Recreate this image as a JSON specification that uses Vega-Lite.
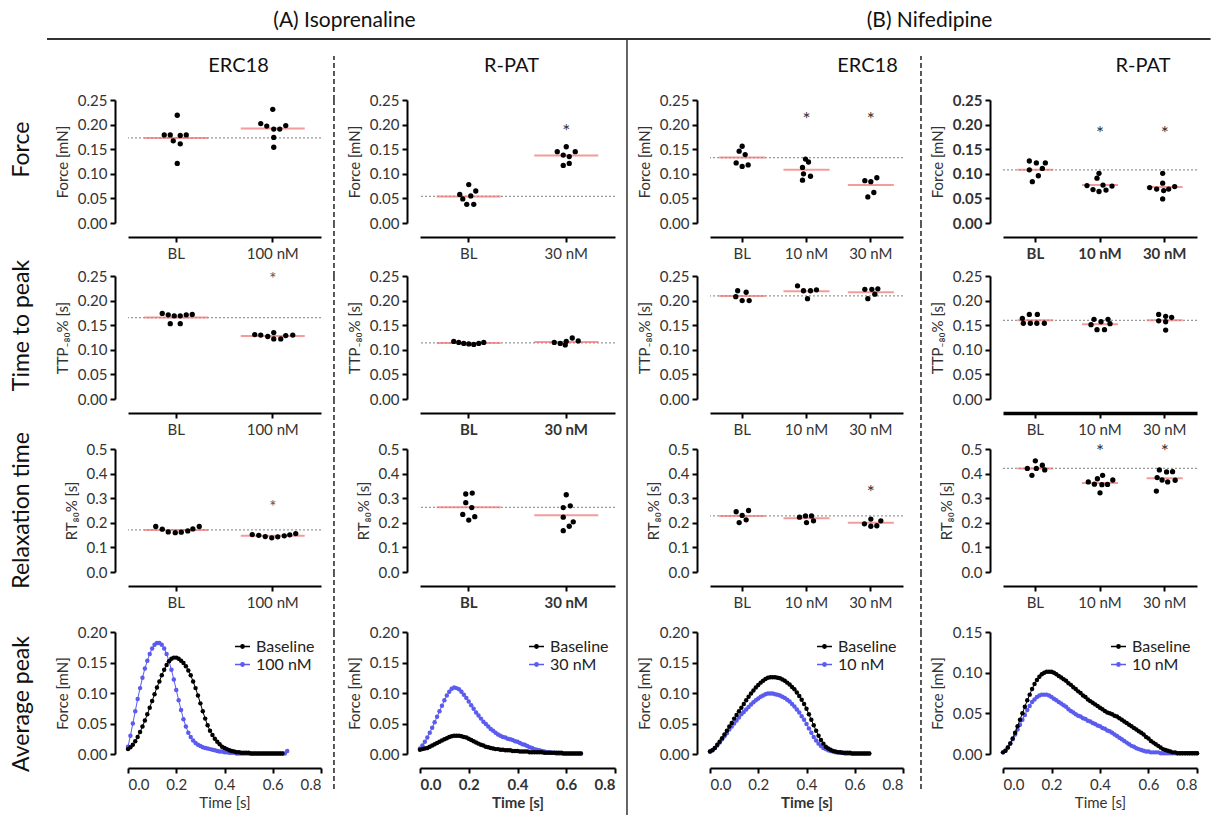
{
"$schema":"https://vega.github.io/schema/vega-lite/v6.json",
"padding":{"top":10,"left":0,"right":0,"bottom":0},
"config":{
 "font":"Lato",
 "view":{"stroke":null},
 "axis":{"grid":false,"domainColor":"#000","domainWidth":2,"tickColor":"#000","tickWidth":2,"tickSize":5,"labelFontSize":15,"labelColor":"#333","labelPadding":3,"titleFontSize":15,"titleFontWeight":"normal","titleColor":"#333","titlePadding":7},
 "axisX":{"offset":14,"labelAngle":0,"labelPadding":4},
 "axisY":{"offset":13},
 "title":{"font":"Lato","fontWeight":"normal","color":"#111"}
},
"datasets":{
"med":[
{"p":"F1","g":"BL","v":0.173},{"p":"F1","g":"100 nM","v":0.192},
{"p":"F2","g":"BL","v":0.054},{"p":"F2","g":"30 nM","v":0.137},
{"p":"F3","g":"BL","v":0.133},{"p":"F3","g":"10 nM","v":0.108},{"p":"F3","g":"30 nM","v":0.077},
{"p":"F4","g":"BL","v":0.108},{"p":"F4","g":"10 nM","v":0.077},{"p":"F4","g":"30 nM","v":0.073},
{"p":"T1","g":"BL","v":0.1655},{"p":"T1","g":"100 nM","v":0.128},
{"p":"T2","g":"BL","v":0.114},{"p":"T2","g":"30 nM","v":0.116},
{"p":"T3","g":"BL","v":0.2095},{"p":"T3","g":"10 nM","v":0.219},{"p":"T3","g":"30 nM","v":0.217},
{"p":"T4","g":"BL","v":0.160},{"p":"T4","g":"10 nM","v":0.152},{"p":"T4","g":"30 nM","v":0.160},
{"p":"R1","g":"BL","v":0.171},{"p":"R1","g":"100 nM","v":0.147},
{"p":"R2","g":"BL","v":0.263},{"p":"R2","g":"30 nM","v":0.231},
{"p":"R3","g":"BL","v":0.228},{"p":"R3","g":"10 nM","v":0.219},{"p":"R3","g":"30 nM","v":0.200},
{"p":"R4","g":"BL","v":0.421},{"p":"R4","g":"10 nM","v":0.362},{"p":"R4","g":"30 nM","v":0.381}
],
"stars":[
{"p":"F2","g":"30 nM","v":0.193},
{"p":"F3","g":"10 nM","v":0.217},{"p":"F3","g":"30 nM","v":0.217},
{"p":"F4","g":"10 nM","v":0.19},{"p":"F4","g":"30 nM","v":0.19},
{"p":"T1","g":"100 nM","v":0.249},
{"p":"R1","g":"100 nM","v":0.276},
{"p":"R3","g":"30 nM","v":0.338},
{"p":"R4","g":"10 nM","v":0.505},{"p":"R4","g":"30 nM","v":0.505}
],
"dots":[
{"p":"F1","g":"BL","j":1,"v":0.219},{"p":"F1","g":"BL","j":-12,"v":0.179},{"p":"F1","g":"BL","j":-6,"v":0.179},{"p":"F1","g":"BL","j":4,"v":0.178},{"p":"F1","g":"BL","j":10,"v":0.179},{"p":"F1","g":"BL","j":-3,"v":0.167},{"p":"F1","g":"BL","j":4,"v":0.161},{"p":"F1","g":"BL","j":1,"v":0.121},
{"p":"F1","g":"100 nM","j":0,"v":0.231},{"p":"F1","g":"100 nM","j":-12,"v":0.202},{"p":"F1","g":"100 nM","j":-6,"v":0.197},{"p":"F1","g":"100 nM","j":1,"v":0.191},{"p":"F1","g":"100 nM","j":7,"v":0.191},{"p":"F1","g":"100 nM","j":13,"v":0.198},{"p":"F1","g":"100 nM","j":1,"v":0.174},{"p":"F1","g":"100 nM","j":1,"v":0.154},
{"p":"F2","g":"BL","j":0,"v":0.078},{"p":"F2","g":"BL","j":-9,"v":0.058},{"p":"F2","g":"BL","j":7,"v":0.065},{"p":"F2","g":"BL","j":2,"v":0.055},{"p":"F2","g":"BL","j":-6,"v":0.049},{"p":"F2","g":"BL","j":-2,"v":0.038},{"p":"F2","g":"BL","j":5,"v":0.038},
{"p":"F2","g":"30 nM","j":0,"v":0.155},{"p":"F2","g":"30 nM","j":-9,"v":0.145},{"p":"F2","g":"30 nM","j":9,"v":0.145},{"p":"F2","g":"30 nM","j":-3,"v":0.138},{"p":"F2","g":"30 nM","j":3,"v":0.135},{"p":"F2","g":"30 nM","j":-3,"v":0.117},{"p":"F2","g":"30 nM","j":3,"v":0.121},
{"p":"F3","g":"BL","j":0,"v":0.156},{"p":"F3","g":"BL","j":-3,"v":0.146},{"p":"F3","g":"BL","j":3,"v":0.139},{"p":"F3","g":"BL","j":-6,"v":0.122},{"p":"F3","g":"BL","j":6,"v":0.118},{"p":"F3","g":"BL","j":0,"v":0.115},
{"p":"F3","g":"10 nM","j":-1,"v":0.130},{"p":"F3","g":"10 nM","j":2,"v":0.124},{"p":"F3","g":"10 nM","j":-4,"v":0.113},{"p":"F3","g":"10 nM","j":-3,"v":0.100},{"p":"F3","g":"10 nM","j":4,"v":0.095},{"p":"F3","g":"10 nM","j":-4,"v":0.087},
{"p":"F3","g":"30 nM","j":-6,"v":0.086},{"p":"F3","g":"30 nM","j":0,"v":0.084},{"p":"F3","g":"30 nM","j":6,"v":0.092},{"p":"F3","g":"30 nM","j":3,"v":0.062},{"p":"F3","g":"30 nM","j":-3,"v":0.053},
{"p":"F4","g":"BL","j":-6,"v":0.126},{"p":"F4","g":"BL","j":1,"v":0.122},{"p":"F4","g":"BL","j":10,"v":0.122},{"p":"F4","g":"BL","j":7,"v":0.111},{"p":"F4","g":"BL","j":-6,"v":0.108},{"p":"F4","g":"BL","j":3,"v":0.096},{"p":"F4","g":"BL","j":-3,"v":0.084},
{"p":"F4","g":"10 nM","j":-1,"v":0.101},{"p":"F4","g":"10 nM","j":-3,"v":0.091},{"p":"F4","g":"10 nM","j":-13,"v":0.076},{"p":"F4","g":"10 nM","j":3,"v":0.077},{"p":"F4","g":"10 nM","j":12,"v":0.075},{"p":"F4","g":"10 nM","j":-7,"v":0.068},{"p":"F4","g":"10 nM","j":-1,"v":0.064},{"p":"F4","g":"10 nM","j":6,"v":0.067},
{"p":"F4","g":"30 nM","j":-2,"v":0.101},{"p":"F4","g":"30 nM","j":-2,"v":0.081},{"p":"F4","g":"30 nM","j":-15,"v":0.072},{"p":"F4","g":"30 nM","j":-8,"v":0.069},{"p":"F4","g":"30 nM","j":4,"v":0.069},{"p":"F4","g":"30 nM","j":10,"v":0.074},{"p":"F4","g":"30 nM","j":-1,"v":0.066},{"p":"F4","g":"30 nM","j":-2,"v":0.049},
{"p":"T1","g":"BL","j":-14,"v":0.174},{"p":"T1","g":"BL","j":-8,"v":0.171},{"p":"T1","g":"BL","j":-2,"v":0.169},{"p":"T1","g":"BL","j":4,"v":0.169},{"p":"T1","g":"BL","j":10,"v":0.171},{"p":"T1","g":"BL","j":16,"v":0.172},{"p":"T1","g":"BL","j":-6,"v":0.153},{"p":"T1","g":"BL","j":4,"v":0.153},
{"p":"T1","g":"100 nM","j":-18,"v":0.131},{"p":"T1","g":"100 nM","j":-12,"v":0.130},{"p":"T1","g":"100 nM","j":-5,"v":0.127},{"p":"T1","g":"100 nM","j":1,"v":0.135},{"p":"T1","g":"100 nM","j":1,"v":0.122},{"p":"T1","g":"100 nM","j":8,"v":0.122},{"p":"T1","g":"100 nM","j":13,"v":0.129},{"p":"T1","g":"100 nM","j":20,"v":0.130},
{"p":"T2","g":"BL","j":-15,"v":0.117},{"p":"T2","g":"BL","j":-10,"v":0.115},{"p":"T2","g":"BL","j":-5,"v":0.113},{"p":"T2","g":"BL","j":0,"v":0.112},{"p":"T2","g":"BL","j":5,"v":0.111},{"p":"T2","g":"BL","j":10,"v":0.113},{"p":"T2","g":"BL","j":15,"v":0.115},
{"p":"T2","g":"30 nM","j":-12,"v":0.115},{"p":"T2","g":"30 nM","j":-6,"v":0.113},{"p":"T2","g":"30 nM","j":0,"v":0.117},{"p":"T2","g":"30 nM","j":6,"v":0.124},{"p":"T2","g":"30 nM","j":12,"v":0.118},{"p":"T2","g":"30 nM","j":-1,"v":0.110},
{"p":"T3","g":"BL","j":-4.5,"v":0.220},{"p":"T3","g":"BL","j":4,"v":0.217},{"p":"T3","g":"BL","j":-6.4,"v":0.208},{"p":"T3","g":"BL","j":0,"v":0.200},{"p":"T3","g":"BL","j":7,"v":0.200},
{"p":"T3","g":"10 nM","j":-9,"v":0.230},{"p":"T3","g":"10 nM","j":-3,"v":0.220},{"p":"T3","g":"10 nM","j":4,"v":0.220},{"p":"T3","g":"10 nM","j":10,"v":0.222},{"p":"T3","g":"10 nM","j":1,"v":0.204},
{"p":"T3","g":"30 nM","j":-6,"v":0.223},{"p":"T3","g":"30 nM","j":1,"v":0.223},{"p":"T3","g":"30 nM","j":7,"v":0.224},{"p":"T3","g":"30 nM","j":4,"v":0.213},{"p":"T3","g":"30 nM","j":-3,"v":0.204},
{"p":"T4","g":"BL","j":-13,"v":0.164},{"p":"T4","g":"BL","j":-6,"v":0.172},{"p":"T4","g":"BL","j":2,"v":0.172},{"p":"T4","g":"BL","j":-12,"v":0.154},{"p":"T4","g":"BL","j":-5,"v":0.154},{"p":"T4","g":"BL","j":1.5,"v":0.154},{"p":"T4","g":"BL","j":9,"v":0.154},
{"p":"T4","g":"10 nM","j":-6,"v":0.162},{"p":"T4","g":"10 nM","j":1,"v":0.157},{"p":"T4","g":"10 nM","j":8,"v":0.162},{"p":"T4","g":"10 nM","j":-9,"v":0.151},{"p":"T4","g":"10 nM","j":10,"v":0.153},{"p":"T4","g":"10 nM","j":-3,"v":0.141},{"p":"T4","g":"10 nM","j":4.5,"v":0.141},
{"p":"T4","g":"30 nM","j":-6,"v":0.172},{"p":"T4","g":"30 nM","j":1,"v":0.168},{"p":"T4","g":"30 nM","j":7,"v":0.166},{"p":"T4","g":"30 nM","j":-6,"v":0.159},{"p":"T4","g":"30 nM","j":1,"v":0.157},{"p":"T4","g":"30 nM","j":1,"v":0.140},
{"p":"R1","g":"BL","j":-20.5,"v":0.185},{"p":"R1","g":"BL","j":-14,"v":0.174},{"p":"R1","g":"BL","j":-8,"v":0.163},{"p":"R1","g":"BL","j":-1,"v":0.160},{"p":"R1","g":"BL","j":5,"v":0.162},{"p":"R1","g":"BL","j":11.5,"v":0.167},{"p":"R1","g":"BL","j":16.6,"v":0.175},{"p":"R1","g":"BL","j":23,"v":0.185},
{"p":"R1","g":"100 nM","j":-20.5,"v":0.152},{"p":"R1","g":"100 nM","j":-14,"v":0.149},{"p":"R1","g":"100 nM","j":-7.5,"v":0.144},{"p":"R1","g":"100 nM","j":-1,"v":0.139},{"p":"R1","g":"100 nM","j":5,"v":0.143},{"p":"R1","g":"100 nM","j":11.5,"v":0.147},{"p":"R1","g":"100 nM","j":17,"v":0.151},{"p":"R1","g":"100 nM","j":23,"v":0.156},
{"p":"R2","g":"BL","j":-3,"v":0.317},{"p":"R2","g":"BL","j":3.5,"v":0.321},{"p":"R2","g":"BL","j":-3,"v":0.282},{"p":"R2","g":"BL","j":3,"v":0.262},{"p":"R2","g":"BL","j":-6,"v":0.234},{"p":"R2","g":"BL","j":0,"v":0.211},{"p":"R2","g":"BL","j":6,"v":0.225},
{"p":"R2","g":"30 nM","j":0,"v":0.314},{"p":"R2","g":"30 nM","j":-3,"v":0.262},{"p":"R2","g":"30 nM","j":4,"v":0.269},{"p":"R2","g":"30 nM","j":-3,"v":0.223},{"p":"R2","g":"30 nM","j":7,"v":0.204},{"p":"R2","g":"30 nM","j":3,"v":0.186},{"p":"R2","g":"30 nM","j":-3,"v":0.168},
{"p":"R3","g":"BL","j":-6,"v":0.245},{"p":"R3","g":"BL","j":6.4,"v":0.250},{"p":"R3","g":"BL","j":0,"v":0.230},{"p":"R3","g":"BL","j":4,"v":0.212},{"p":"R3","g":"BL","j":-3,"v":0.201},
{"p":"R3","g":"10 nM","j":-7,"v":0.223},{"p":"R3","g":"10 nM","j":-1,"v":0.228},{"p":"R3","g":"10 nM","j":5,"v":0.228},{"p":"R3","g":"10 nM","j":7,"v":0.208},{"p":"R3","g":"10 nM","j":0,"v":0.201},
{"p":"R3","g":"30 nM","j":-6.4,"v":0.196},{"p":"R3","g":"30 nM","j":0,"v":0.215},{"p":"R3","g":"30 nM","j":10,"v":0.208},{"p":"R3","g":"30 nM","j":0,"v":0.186},{"p":"R3","g":"30 nM","j":6,"v":0.188},
{"p":"R4","g":"BL","j":0,"v":0.452},{"p":"R4","g":"BL","j":-8,"v":0.421},{"p":"R4","g":"BL","j":1,"v":0.421},{"p":"R4","g":"BL","j":7,"v":0.434},{"p":"R4","g":"BL","j":9.4,"v":0.415},{"p":"R4","g":"BL","j":-3.4,"v":0.393},
{"p":"R4","g":"10 nM","j":2.6,"v":0.393},{"p":"R4","g":"10 nM","j":-2.6,"v":0.379},{"p":"R4","g":"10 nM","j":-11.7,"v":0.366},{"p":"R4","g":"10 nM","j":12.8,"v":0.374},{"p":"R4","g":"10 nM","j":-5.6,"v":0.357},{"p":"R4","g":"10 nM","j":1.9,"v":0.355},{"p":"R4","g":"10 nM","j":7.5,"v":0.356},{"p":"R4","g":"10 nM","j":0,"v":0.322},
{"p":"R4","g":"30 nM","j":-5.3,"v":0.415},{"p":"R4","g":"30 nM","j":1.9,"v":0.407},{"p":"R4","g":"30 nM","j":7.9,"v":0.408},{"p":"R4","g":"30 nM","j":-7.5,"v":0.384},{"p":"R4","g":"30 nM","j":3,"v":0.366},{"p":"R4","g":"30 nM","j":10.5,"v":0.373},{"p":"R4","g":"30 nM","j":-2.6,"v":0.374},{"p":"R4","g":"30 nM","j":-8.3,"v":0.329}
],
"a1d":[{"t":0,"f":0.012},{"t":0.01,"f":0.03},{"t":0.02,"f":0.05},{"t":0.03,"f":0.07},{"t":0.04,"f":0.09},{"t":0.05,"f":0.108},{"t":0.06,"f":0.125},{"t":0.07,"f":0.14},{"t":0.08,"f":0.153},{"t":0.09,"f":0.164},{"t":0.1,"f":0.173},{"t":0.11,"f":0.179},{"t":0.12,"f":0.182},{"t":0.13,"f":0.182},{"t":0.14,"f":0.179},{"t":0.15,"f":0.173},{"t":0.16,"f":0.164},{"t":0.17,"f":0.152},{"t":0.18,"f":0.138},{"t":0.19,"f":0.122},{"t":0.2,"f":0.105},{"t":0.21,"f":0.088},{"t":0.22,"f":0.072},{"t":0.23,"f":0.057},{"t":0.24,"f":0.045},{"t":0.25,"f":0.035},{"t":0.26,"f":0.028},{"t":0.27,"f":0.022},{"t":0.28,"f":0.018},{"t":0.29,"f":0.015},{"t":0.3,"f":0.013},{"t":0.31,"f":0.011},{"t":0.32,"f":0.01},{"t":0.33,"f":0.009},{"t":0.34,"f":0.008},{"t":0.35,"f":0.007},{"t":0.36,"f":0.006},{"t":0.37,"f":0.005},{"t":0.38,"f":0.004},{"t":0.39,"f":0.004},{"t":0.4,"f":0.003},{"t":0.41,"f":0.003},{"t":0.42,"f":0.002},{"t":0.43,"f":0.002},{"t":0.44,"f":0.002},{"t":0.45,"f":0.001},{"t":0.46,"f":0.001},{"t":0.47,"f":0.001},{"t":0.48,"f":0.001},{"t":0.49,"f":0.001},{"t":0.5,"f":0.001},{"t":0.51,"f":0.001},{"t":0.52,"f":0.001},{"t":0.53,"f":0.001},{"t":0.54,"f":0.001},{"t":0.55,"f":0.001},{"t":0.56,"f":0.001},{"t":0.57,"f":0.001},{"t":0.58,"f":0.001},{"t":0.59,"f":0.001},{"t":0.6,"f":0.001},{"t":0.61,"f":0.001},{"t":0.62,"f":0.001},{"t":0.63,"f":0.001},{"t":0.64,"f":0.001},{"t":0.65,"f":0.001},{"t":0.66,"f":0.005}],
"a1b":[{"t":0,"f":0.008},{"t":0.01,"f":0.011},{"t":0.02,"f":0.015},{"t":0.03,"f":0.021},{"t":0.04,"f":0.028},{"t":0.05,"f":0.036},{"t":0.06,"f":0.045},{"t":0.07,"f":0.055},{"t":0.08,"f":0.065},{"t":0.09,"f":0.076},{"t":0.1,"f":0.087},{"t":0.11,"f":0.098},{"t":0.12,"f":0.109},{"t":0.13,"f":0.119},{"t":0.14,"f":0.129},{"t":0.15,"f":0.138},{"t":0.16,"f":0.146},{"t":0.17,"f":0.152},{"t":0.18,"f":0.156},{"t":0.19,"f":0.158},{"t":0.2,"f":0.158},{"t":0.21,"f":0.156},{"t":0.22,"f":0.153},{"t":0.23,"f":0.149},{"t":0.24,"f":0.144},{"t":0.25,"f":0.137},{"t":0.26,"f":0.129},{"t":0.27,"f":0.119},{"t":0.28,"f":0.108},{"t":0.29,"f":0.096},{"t":0.3,"f":0.083},{"t":0.31,"f":0.07},{"t":0.32,"f":0.058},{"t":0.33,"f":0.047},{"t":0.34,"f":0.038},{"t":0.35,"f":0.031},{"t":0.36,"f":0.025},{"t":0.37,"f":0.02},{"t":0.38,"f":0.016},{"t":0.39,"f":0.012},{"t":0.4,"f":0.01},{"t":0.41,"f":0.008},{"t":0.42,"f":0.006},{"t":0.43,"f":0.005},{"t":0.44,"f":0.004},{"t":0.45,"f":0.003},{"t":0.46,"f":0.003},{"t":0.47,"f":0.002},{"t":0.48,"f":0.002},{"t":0.49,"f":0.002},{"t":0.5,"f":0.002},{"t":0.51,"f":0.001},{"t":0.52,"f":0.001},{"t":0.53,"f":0.001},{"t":0.54,"f":0.001},{"t":0.55,"f":0.001},{"t":0.56,"f":0.001},{"t":0.57,"f":0.001},{"t":0.58,"f":0.001},{"t":0.59,"f":0.001},{"t":0.6,"f":0.001},{"t":0.61,"f":0.001},{"t":0.62,"f":0.001},{"t":0.63,"f":0.001},{"t":0.64,"f":0.001}],
"a2d":[{"t":0,"f":0.009},{"t":0.01,"f":0.014},{"t":0.02,"f":0.02},{"t":0.03,"f":0.027},{"t":0.04,"f":0.035},{"t":0.05,"f":0.043},{"t":0.06,"f":0.052},{"t":0.07,"f":0.061},{"t":0.08,"f":0.07},{"t":0.09,"f":0.079},{"t":0.1,"f":0.088},{"t":0.11,"f":0.096},{"t":0.12,"f":0.102},{"t":0.13,"f":0.107},{"t":0.14,"f":0.109},{"t":0.15,"f":0.108},{"t":0.16,"f":0.106},{"t":0.17,"f":0.102},{"t":0.18,"f":0.097},{"t":0.19,"f":0.092},{"t":0.2,"f":0.086},{"t":0.21,"f":0.08},{"t":0.22,"f":0.074},{"t":0.23,"f":0.068},{"t":0.24,"f":0.063},{"t":0.25,"f":0.058},{"t":0.26,"f":0.053},{"t":0.27,"f":0.049},{"t":0.28,"f":0.045},{"t":0.29,"f":0.041},{"t":0.3,"f":0.038},{"t":0.31,"f":0.035},{"t":0.32,"f":0.032},{"t":0.33,"f":0.03},{"t":0.34,"f":0.028},{"t":0.35,"f":0.027},{"t":0.36,"f":0.025},{"t":0.37,"f":0.024},{"t":0.38,"f":0.023},{"t":0.39,"f":0.021},{"t":0.4,"f":0.02},{"t":0.41,"f":0.018},{"t":0.42,"f":0.016},{"t":0.43,"f":0.015},{"t":0.44,"f":0.013},{"t":0.45,"f":0.011},{"t":0.46,"f":0.01},{"t":0.47,"f":0.008},{"t":0.48,"f":0.007},{"t":0.49,"f":0.006},{"t":0.5,"f":0.005},{"t":0.51,"f":0.004},{"t":0.52,"f":0.003},{"t":0.53,"f":0.003},{"t":0.54,"f":0.002},{"t":0.55,"f":0.002},{"t":0.56,"f":0.001},{"t":0.57,"f":0.001},{"t":0.58,"f":0.001},{"t":0.59,"f":0.001},{"t":0.6,"f":0.001},{"t":0.61,"f":0.001},{"t":0.62,"f":0.001},{"t":0.63,"f":0.001},{"t":0.64,"f":0.001},{"t":0.65,"f":0.001},{"t":0.66,"f":0.001}],
"a2b":[{"t":0,"f":0.007},{"t":0.01,"f":0.008},{"t":0.02,"f":0.009},{"t":0.03,"f":0.01},{"t":0.04,"f":0.012},{"t":0.05,"f":0.014},{"t":0.06,"f":0.016},{"t":0.07,"f":0.018},{"t":0.08,"f":0.02},{"t":0.09,"f":0.022},{"t":0.1,"f":0.024},{"t":0.11,"f":0.026},{"t":0.12,"f":0.028},{"t":0.13,"f":0.029},{"t":0.14,"f":0.03},{"t":0.15,"f":0.03},{"t":0.16,"f":0.03},{"t":0.17,"f":0.029},{"t":0.18,"f":0.028},{"t":0.19,"f":0.027},{"t":0.2,"f":0.025},{"t":0.21,"f":0.023},{"t":0.22,"f":0.021},{"t":0.23,"f":0.019},{"t":0.24,"f":0.017},{"t":0.25,"f":0.015},{"t":0.26,"f":0.014},{"t":0.27,"f":0.012},{"t":0.28,"f":0.011},{"t":0.29,"f":0.01},{"t":0.3,"f":0.009},{"t":0.31,"f":0.008},{"t":0.32,"f":0.008},{"t":0.33,"f":0.007},{"t":0.34,"f":0.007},{"t":0.35,"f":0.006},{"t":0.36,"f":0.006},{"t":0.37,"f":0.006},{"t":0.38,"f":0.005},{"t":0.39,"f":0.005},{"t":0.4,"f":0.005},{"t":0.41,"f":0.004},{"t":0.42,"f":0.004},{"t":0.43,"f":0.004},{"t":0.44,"f":0.004},{"t":0.45,"f":0.003},{"t":0.46,"f":0.003},{"t":0.47,"f":0.003},{"t":0.48,"f":0.003},{"t":0.49,"f":0.003},{"t":0.5,"f":0.003},{"t":0.51,"f":0.002},{"t":0.52,"f":0.002},{"t":0.53,"f":0.002},{"t":0.54,"f":0.002},{"t":0.55,"f":0.002},{"t":0.56,"f":0.002},{"t":0.57,"f":0.002},{"t":0.58,"f":0.002},{"t":0.59,"f":0.001},{"t":0.6,"f":0.001},{"t":0.61,"f":0.001},{"t":0.62,"f":0.001},{"t":0.63,"f":0.001},{"t":0.64,"f":0.001},{"t":0.65,"f":0.001},{"t":0.66,"f":0.001}],
"a3d":[{"t":0,"f":0.004},{"t":0.01,"f":0.006},{"t":0.02,"f":0.01},{"t":0.03,"f":0.014},{"t":0.04,"f":0.019},{"t":0.05,"f":0.024},{"t":0.06,"f":0.029},{"t":0.07,"f":0.034},{"t":0.08,"f":0.04},{"t":0.09,"f":0.045},{"t":0.1,"f":0.05},{"t":0.11,"f":0.055},{"t":0.12,"f":0.06},{"t":0.13,"f":0.065},{"t":0.14,"f":0.069},{"t":0.15,"f":0.073},{"t":0.16,"f":0.077},{"t":0.17,"f":0.081},{"t":0.18,"f":0.085},{"t":0.19,"f":0.088},{"t":0.2,"f":0.091},{"t":0.21,"f":0.094},{"t":0.22,"f":0.096},{"t":0.23,"f":0.098},{"t":0.24,"f":0.099},{"t":0.25,"f":0.099},{"t":0.26,"f":0.099},{"t":0.27,"f":0.098},{"t":0.28,"f":0.097},{"t":0.29,"f":0.096},{"t":0.3,"f":0.094},{"t":0.31,"f":0.092},{"t":0.32,"f":0.089},{"t":0.33,"f":0.086},{"t":0.34,"f":0.082},{"t":0.35,"f":0.078},{"t":0.36,"f":0.073},{"t":0.37,"f":0.068},{"t":0.38,"f":0.062},{"t":0.39,"f":0.056},{"t":0.4,"f":0.049},{"t":0.41,"f":0.042},{"t":0.42,"f":0.035},{"t":0.43,"f":0.028},{"t":0.44,"f":0.022},{"t":0.45,"f":0.017},{"t":0.46,"f":0.013},{"t":0.47,"f":0.01},{"t":0.48,"f":0.008},{"t":0.49,"f":0.006},{"t":0.5,"f":0.005},{"t":0.51,"f":0.004},{"t":0.52,"f":0.003},{"t":0.53,"f":0.003},{"t":0.54,"f":0.002},{"t":0.55,"f":0.002},{"t":0.56,"f":0.001},{"t":0.57,"f":0.001},{"t":0.58,"f":0.001},{"t":0.59,"f":0.001},{"t":0.6,"f":0.001},{"t":0.61,"f":0.001},{"t":0.62,"f":0.001},{"t":0.63,"f":0.001},{"t":0.64,"f":0.001},{"t":0.65,"f":0.001},{"t":0.66,"f":0.001}],
"a3b":[{"t":0,"f":0.004},{"t":0.01,"f":0.006},{"t":0.02,"f":0.01},{"t":0.03,"f":0.015},{"t":0.04,"f":0.02},{"t":0.05,"f":0.026},{"t":0.06,"f":0.032},{"t":0.07,"f":0.038},{"t":0.08,"f":0.045},{"t":0.09,"f":0.051},{"t":0.1,"f":0.058},{"t":0.11,"f":0.064},{"t":0.12,"f":0.07},{"t":0.13,"f":0.076},{"t":0.14,"f":0.082},{"t":0.15,"f":0.088},{"t":0.16,"f":0.094},{"t":0.17,"f":0.099},{"t":0.18,"f":0.104},{"t":0.19,"f":0.109},{"t":0.2,"f":0.113},{"t":0.21,"f":0.117},{"t":0.22,"f":0.12},{"t":0.23,"f":0.123},{"t":0.24,"f":0.125},{"t":0.25,"f":0.126},{"t":0.26,"f":0.126},{"t":0.27,"f":0.126},{"t":0.28,"f":0.125},{"t":0.29,"f":0.124},{"t":0.3,"f":0.122},{"t":0.31,"f":0.12},{"t":0.32,"f":0.117},{"t":0.33,"f":0.114},{"t":0.34,"f":0.11},{"t":0.35,"f":0.106},{"t":0.36,"f":0.101},{"t":0.37,"f":0.095},{"t":0.38,"f":0.089},{"t":0.39,"f":0.082},{"t":0.4,"f":0.074},{"t":0.41,"f":0.065},{"t":0.42,"f":0.056},{"t":0.43,"f":0.047},{"t":0.44,"f":0.038},{"t":0.45,"f":0.03},{"t":0.46,"f":0.023},{"t":0.47,"f":0.017},{"t":0.48,"f":0.012},{"t":0.49,"f":0.009},{"t":0.5,"f":0.007},{"t":0.51,"f":0.005},{"t":0.52,"f":0.004},{"t":0.53,"f":0.003},{"t":0.54,"f":0.003},{"t":0.55,"f":0.002},{"t":0.56,"f":0.002},{"t":0.57,"f":0.002},{"t":0.58,"f":0.002},{"t":0.59,"f":0.001},{"t":0.6,"f":0.001},{"t":0.61,"f":0.001},{"t":0.62,"f":0.001},{"t":0.63,"f":0.001},{"t":0.64,"f":0.001},{"t":0.65,"f":0.001},{"t":0.66,"f":0.001}],
"a4d":[{"t":0,"f":0.002},{"t":0.01,"f":0.004},{"t":0.02,"f":0.008},{"t":0.03,"f":0.013},{"t":0.04,"f":0.018},{"t":0.05,"f":0.024},{"t":0.06,"f":0.03},{"t":0.07,"f":0.036},{"t":0.08,"f":0.042},{"t":0.09,"f":0.048},{"t":0.1,"f":0.054},{"t":0.11,"f":0.059},{"t":0.12,"f":0.064},{"t":0.13,"f":0.067},{"t":0.14,"f":0.07},{"t":0.15,"f":0.072},{"t":0.16,"f":0.073},{"t":0.17,"f":0.073},{"t":0.18,"f":0.073},{"t":0.19,"f":0.072},{"t":0.2,"f":0.07},{"t":0.21,"f":0.068},{"t":0.22,"f":0.066},{"t":0.23,"f":0.064},{"t":0.24,"f":0.062},{"t":0.25,"f":0.06},{"t":0.26,"f":0.058},{"t":0.27,"f":0.055},{"t":0.28,"f":0.053},{"t":0.29,"f":0.051},{"t":0.3,"f":0.049},{"t":0.31,"f":0.047},{"t":0.32,"f":0.046},{"t":0.33,"f":0.044},{"t":0.34,"f":0.043},{"t":0.35,"f":0.041},{"t":0.36,"f":0.04},{"t":0.37,"f":0.038},{"t":0.38,"f":0.037},{"t":0.39,"f":0.035},{"t":0.4,"f":0.034},{"t":0.41,"f":0.032},{"t":0.42,"f":0.031},{"t":0.43,"f":0.029},{"t":0.44,"f":0.028},{"t":0.45,"f":0.026},{"t":0.46,"f":0.024},{"t":0.47,"f":0.022},{"t":0.48,"f":0.02},{"t":0.49,"f":0.018},{"t":0.5,"f":0.016},{"t":0.51,"f":0.014},{"t":0.52,"f":0.012},{"t":0.53,"f":0.01},{"t":0.54,"f":0.009},{"t":0.55,"f":0.007},{"t":0.56,"f":0.006},{"t":0.57,"f":0.005},{"t":0.58,"f":0.004},{"t":0.59,"f":0.003},{"t":0.6,"f":0.003},{"t":0.61,"f":0.002},{"t":0.62,"f":0.002},{"t":0.63,"f":0.002},{"t":0.64,"f":0.002},{"t":0.65,"f":0.001},{"t":0.66,"f":0.001},{"t":0.67,"f":0.001},{"t":0.68,"f":0.001},{"t":0.69,"f":0.001},{"t":0.7,"f":0.001},{"t":0.71,"f":0.001},{"t":0.72,"f":0.001},{"t":0.73,"f":0.001},{"t":0.74,"f":0.001},{"t":0.75,"f":0.001},{"t":0.76,"f":0.001},{"t":0.77,"f":0.001},{"t":0.78,"f":0.001},{"t":0.79,"f":0.001},{"t":0.8,"f":0.001}],
"a4b":[{"t":0,"f":0.002},{"t":0.01,"f":0.004},{"t":0.02,"f":0.008},{"t":0.03,"f":0.013},{"t":0.04,"f":0.019},{"t":0.05,"f":0.026},{"t":0.06,"f":0.034},{"t":0.07,"f":0.042},{"t":0.08,"f":0.05},{"t":0.09,"f":0.058},{"t":0.1,"f":0.066},{"t":0.11,"f":0.073},{"t":0.12,"f":0.08},{"t":0.13,"f":0.086},{"t":0.14,"f":0.091},{"t":0.15,"f":0.095},{"t":0.16,"f":0.098},{"t":0.17,"f":0.1},{"t":0.18,"f":0.101},{"t":0.19,"f":0.101},{"t":0.2,"f":0.101},{"t":0.21,"f":0.1},{"t":0.22,"f":0.098},{"t":0.23,"f":0.096},{"t":0.24,"f":0.094},{"t":0.25,"f":0.092},{"t":0.26,"f":0.09},{"t":0.27,"f":0.087},{"t":0.28,"f":0.085},{"t":0.29,"f":0.082},{"t":0.3,"f":0.08},{"t":0.31,"f":0.077},{"t":0.32,"f":0.075},{"t":0.33,"f":0.072},{"t":0.34,"f":0.07},{"t":0.35,"f":0.067},{"t":0.36,"f":0.065},{"t":0.37,"f":0.063},{"t":0.38,"f":0.061},{"t":0.39,"f":0.059},{"t":0.4,"f":0.057},{"t":0.41,"f":0.055},{"t":0.42,"f":0.053},{"t":0.43,"f":0.051},{"t":0.44,"f":0.05},{"t":0.45,"f":0.049},{"t":0.46,"f":0.047},{"t":0.47,"f":0.046},{"t":0.48,"f":0.044},{"t":0.49,"f":0.042},{"t":0.5,"f":0.04},{"t":0.51,"f":0.038},{"t":0.52,"f":0.036},{"t":0.53,"f":0.034},{"t":0.54,"f":0.032},{"t":0.55,"f":0.03},{"t":0.56,"f":0.028},{"t":0.57,"f":0.026},{"t":0.58,"f":0.024},{"t":0.59,"f":0.021},{"t":0.6,"f":0.019},{"t":0.61,"f":0.016},{"t":0.62,"f":0.014},{"t":0.63,"f":0.012},{"t":0.64,"f":0.01},{"t":0.65,"f":0.008},{"t":0.66,"f":0.006},{"t":0.67,"f":0.005},{"t":0.68,"f":0.004},{"t":0.69,"f":0.003},{"t":0.7,"f":0.002},{"t":0.71,"f":0.002},{"t":0.72,"f":0.001},{"t":0.73,"f":0.001},{"t":0.74,"f":0.001},{"t":0.75,"f":0.001},{"t":0.76,"f":0.001},{"t":0.77,"f":0.001},{"t":0.78,"f":0.001},{"t":0.79,"f":0.001},{"t":0.8,"f":0.001}]
},
"columns":9,
"spacing":0,
"bounds":"flush",
"resolve":{"scale":{"xOffset":"independent","color":"independent"},"legend":{"color":"independent"}},
"concat":[
 {"width":44,"height":61,"data":{"values":[]},"mark":"point"},
 {"width":84,"height":61,"data":{"values":[{}]},"mark":{"type":"rule","color":"#333","strokeWidth":2},"encoding":{"x":{"datum":0.036,"type":"quantitative","scale":{"domain":[0,1]},"axis":null},"x2":{"datum":1},"y":{"datum":1,"type":"quantitative","scale":{"domain":[0,1]},"axis":null}}},
 {"width":193,"height":61,"title":{"text":"(A) Isoprenaline","fontSize":21,"anchor":"middle","frame":"group","offset":7,"dx":120},"data":{"values":[{}]},"layer":[
   {"mark":{"type":"rule","color":"#333","strokeWidth":2},"encoding":{"y":{"datum":1,"type":"quantitative","scale":{"domain":[0,1]},"axis":null}}},
   {"mark":{"type":"text","text":"ERC18","fontSize":20,"color":"#111","baseline":"middle","dx":14,"dy":-4},"encoding":{}}]},
 {"width":99,"height":61,"data":{"values":[{}]},"layer":[
   {"mark":{"type":"rule","color":"#333","strokeWidth":2},"encoding":{"y":{"datum":1,"type":"quantitative","scale":{"domain":[0,1]},"axis":null}}},
   {"mark":{"type":"rule","color":"#222","strokeWidth":1.5,"strokeDash":[5,3]},"encoding":{"x":{"datum":0.131,"type":"quantitative","scale":{"domain":[0,1]},"axis":null},"y":{"datum":0,"type":"quantitative","scale":{"domain":[0,1]},"axis":null},"y2":{"datum":0.721}}}]},
 {"width":195,"height":61,"data":{"values":[{}]},"layer":[
   {"mark":{"type":"rule","color":"#333","strokeWidth":2},"encoding":{"y":{"datum":1,"type":"quantitative","scale":{"domain":[0,1]},"axis":null}}},
   {"mark":{"type":"text","text":"R-PAT","fontSize":20,"color":"#111","baseline":"middle","dx":-6,"dy":-4},"encoding":{}}]},
 {"width":95,"height":61,"data":{"values":[{}]},"layer":[
   {"mark":{"type":"rule","color":"#333","strokeWidth":2},"encoding":{"y":{"datum":1,"type":"quantitative","scale":{"domain":[0,1]},"axis":null}}},
   {"mark":{"type":"rule","color":"#333","strokeWidth":1.5},"encoding":{"x":{"datum":0.126,"type":"quantitative","scale":{"domain":[0,1]},"axis":null}}}]},
 {"width":193,"height":61,"title":{"text":"(B) Nifedipine","fontSize":21,"anchor":"middle","frame":"group","offset":7,"dx":123},"data":{"values":[{}]},"layer":[
   {"mark":{"type":"rule","color":"#333","strokeWidth":2},"encoding":{"y":{"datum":1,"type":"quantitative","scale":{"domain":[0,1]},"axis":null}}},
   {"mark":{"type":"text","text":"ERC18","fontSize":20,"color":"#111","baseline":"middle","dx":61,"dy":-4},"encoding":{}}]},
 {"width":100,"height":61,"data":{"values":[{}]},"layer":[
   {"mark":{"type":"rule","color":"#333","strokeWidth":2},"encoding":{"y":{"datum":1,"type":"quantitative","scale":{"domain":[0,1]},"axis":null}}},
   {"mark":{"type":"rule","color":"#222","strokeWidth":1.5,"strokeDash":[5,3]},"encoding":{"x":{"datum":0.18,"type":"quantitative","scale":{"domain":[0,1]},"axis":null},"y":{"datum":0,"type":"quantitative","scale":{"domain":[0,1]},"axis":null},"y2":{"datum":0.721}}}]},
 {"width":194,"height":61,"data":{"values":[{}]},"layer":[
   {"mark":{"type":"rule","color":"#333","strokeWidth":2},"encoding":{"x":{"datum":0,"type":"quantitative","scale":{"domain":[0,1]},"axis":null},"x2":{"datum":1.07},"y":{"datum":1,"type":"quantitative","scale":{"domain":[0,1]},"axis":null}}},
   {"mark":{"type":"text","text":"R-PAT","fontSize":20,"color":"#111","baseline":"middle","dx":43,"dy":-4},"encoding":{}}]},

 {"width":44,"height":123,"data":{"values":[{"label":"Force"}]},"mark":{"type":"text","angle":270,"fontSize":23,"color":"#111","dx":12},"encoding":{"text":{"field":"label","type":"nominal"}}},
 {"width":84,"height":123,"data":{"values":[]},"mark":"point"},
 {"width":193,"height":123,
  "encoding":{"y":{"field":"v","type":"quantitative","title":"Force [mN]","scale":{"domain":[0,0.25],"nice":false},"axis":{"values":[0,0.05,0.1,0.15,0.2,0.25],"format":".2f"}}},
  "layer":[
   {"data":{"name":"med"},"transform":[{"filter":"datum.p=='F1'&&datum.g=='BL'"}],"mark":{"type":"rule","color":"#999","strokeDash":[2,2],"strokeWidth":1.2},"encoding":{}},
   {"data":{"name":"med"},"transform":[{"filter":"datum.p=='F1'"}],"mark":{"type":"tick","color":"#f07070","thickness":2,"size":64},"encoding":{"x":{"field":"g","type":"nominal","title":null,"scale":{"type":"band","domain":["BL","100 nM"],"paddingInner":0,"paddingOuter":0},"axis":{"bandPosition":0.5}}}},
   {"data":{"name":"dots"},"transform":[{"filter":"datum.p=='F1'"}],"mark":{"type":"circle","size":28,"color":"#000","opacity":1},"encoding":{"x":{"field":"g","type":"nominal","title":null,"scale":{"type":"band","domain":["BL","100 nM"],"paddingInner":0,"paddingOuter":0},"axis":{"bandPosition":0.5}},"xOffset":{"field":"j","type":"quantitative","scale":{"domain":[-48.25,48.25],"range":[0,96.5]}}}}
  ]},
 {"width":99,"height":123,"data":{"values":[{}]},"mark":{"type":"rule","color":"#222","strokeWidth":1.5,"strokeDash":[5,3]},"encoding":{"x":{"datum":0.131,"type":"quantitative","scale":{"domain":[0,1]},"axis":null}}},
 {"width":195,"height":123,
  "encoding":{"y":{"field":"v","type":"quantitative","title":"Force [mN]","scale":{"domain":[0,0.25],"nice":false},"axis":{"values":[0,0.05,0.1,0.15,0.2,0.25],"format":".2f"}}},
  "layer":[
   {"data":{"name":"med"},"transform":[{"filter":"datum.p=='F2'&&datum.g=='BL'"}],"mark":{"type":"rule","color":"#999","strokeDash":[2,2],"strokeWidth":1.2},"encoding":{}},
   {"data":{"name":"med"},"transform":[{"filter":"datum.p=='F2'"}],"mark":{"type":"tick","color":"#f07070","thickness":2,"size":64},"encoding":{"x":{"field":"g","type":"nominal","title":null,"scale":{"type":"band","domain":["BL","30 nM"],"paddingInner":0,"paddingOuter":0},"axis":{"bandPosition":0.5}}}},
   {"data":{"name":"dots"},"transform":[{"filter":"datum.p=='F2'"}],"mark":{"type":"circle","size":28,"color":"#000","opacity":1},"encoding":{"x":{"field":"g","type":"nominal","title":null,"scale":{"type":"band","domain":["BL","30 nM"],"paddingInner":0,"paddingOuter":0},"axis":{"bandPosition":0.5}},"xOffset":{"field":"j","type":"quantitative","scale":{"domain":[-48.75,48.75],"range":[0,97.5]}}}},
   {"data":{"name":"stars"},"transform":[{"filter":"datum.p=='F2'"}],"mark":{"type":"text","text":"*","fontSize":19,"color":"#333","baseline":"alphabetic","dy":10},"encoding":{"x":{"field":"g","type":"nominal","title":null,"scale":{"type":"band","domain":["BL","30 nM"],"paddingInner":0,"paddingOuter":0},"axis":{"bandPosition":0.5}}}}
  ]},
 {"width":95,"height":123,"data":{"values":[{}]},"mark":{"type":"rule","color":"#333","strokeWidth":1.5},"encoding":{"x":{"datum":0.126,"type":"quantitative","scale":{"domain":[0,1]},"axis":null}}},
 {"width":193,"height":123,
  "encoding":{"y":{"field":"v","type":"quantitative","title":"Force [mN]","scale":{"domain":[0,0.25],"nice":false},"axis":{"values":[0,0.05,0.1,0.15,0.2,0.25],"format":".2f"}}},
  "layer":[
   {"data":{"name":"med"},"transform":[{"filter":"datum.p=='F3'&&datum.g=='BL'"}],"mark":{"type":"rule","color":"#999","strokeDash":[2,2],"strokeWidth":1.2},"encoding":{}},
   {"data":{"name":"med"},"transform":[{"filter":"datum.p=='F3'"}],"mark":{"type":"tick","color":"#f07070","thickness":2,"size":46},"encoding":{"x":{"field":"g","type":"nominal","title":null,"scale":{"type":"band","domain":["BL","10 nM","30 nM"],"paddingInner":0,"paddingOuter":0},"axis":{"bandPosition":0.5}}}},
   {"data":{"name":"dots"},"transform":[{"filter":"datum.p=='F3'"}],"mark":{"type":"circle","size":28,"color":"#000","opacity":1},"encoding":{"x":{"field":"g","type":"nominal","title":null,"scale":{"type":"band","domain":["BL","10 nM","30 nM"],"paddingInner":0,"paddingOuter":0},"axis":{"bandPosition":0.5}},"xOffset":{"field":"j","type":"quantitative","scale":{"domain":[-32.17,32.17],"range":[0,64.33]}}}},
   {"data":{"name":"stars"},"transform":[{"filter":"datum.p=='F3'"}],"mark":{"type":"text","text":"*","fontSize":19,"color":"#333","baseline":"alphabetic","dy":10},"encoding":{"x":{"field":"g","type":"nominal","title":null,"scale":{"type":"band","domain":["BL","10 nM","30 nM"],"paddingInner":0,"paddingOuter":0},"axis":{"bandPosition":0.5}}}}
  ]},
 {"width":100,"height":123,"data":{"values":[{}]},"mark":{"type":"rule","color":"#222","strokeWidth":1.5,"strokeDash":[5,3]},"encoding":{"x":{"datum":0.18,"type":"quantitative","scale":{"domain":[0,1]},"axis":null}}},
 {"width":194,"height":123,
  "encoding":{"y":{"field":"v","type":"quantitative","title":"Force [mN]","scale":{"domain":[0,0.25],"nice":false},"axis":{"values":[0,0.05,0.1,0.15,0.2,0.25],"format":".2f","labelFontWeight":"bold"}}},
  "layer":[
   {"data":{"name":"med"},"transform":[{"filter":"datum.p=='F4'&&datum.g=='BL'"}],"mark":{"type":"rule","color":"#999","strokeDash":[2,2],"strokeWidth":1.2},"encoding":{}},
   {"data":{"name":"med"},"transform":[{"filter":"datum.p=='F4'"}],"mark":{"type":"tick","color":"#f07070","thickness":2,"size":36},"encoding":{"x":{"field":"g","type":"nominal","title":null,"scale":{"type":"band","domain":["BL","10 nM","30 nM"],"paddingInner":0,"paddingOuter":0},"axis":{"bandPosition":0.5,"labelFontWeight":"bold"}}}},
   {"data":{"name":"dots"},"transform":[{"filter":"datum.p=='F4'"}],"mark":{"type":"circle","size":28,"color":"#000","opacity":1},"encoding":{"x":{"field":"g","type":"nominal","title":null,"scale":{"type":"band","domain":["BL","10 nM","30 nM"],"paddingInner":0,"paddingOuter":0},"axis":{"bandPosition":0.5,"labelFontWeight":"bold"}},"xOffset":{"field":"j","type":"quantitative","scale":{"domain":[-32.33,32.33],"range":[0,64.67]}}}},
   {"data":{"name":"stars"},"transform":[{"filter":"datum.p=='F4'"}],"mark":{"type":"text","text":"*","fontSize":19,"color":"#333","baseline":"alphabetic","dy":10},"encoding":{"x":{"field":"g","type":"nominal","title":null,"scale":{"type":"band","domain":["BL","10 nM","30 nM"],"paddingInner":0,"paddingOuter":0},"axis":{"bandPosition":0.5,"labelFontWeight":"bold"}}}}
  ]},

 {"width":44,"height":53,"data":{"values":[]},"mark":"point"},
 {"width":84,"height":53,"data":{"values":[]},"mark":"point"},
 {"width":193,"height":53,"data":{"values":[]},"mark":"point"},
 {"width":99,"height":53,"data":{"values":[{}]},"mark":{"type":"rule","color":"#222","strokeWidth":1.5,"strokeDash":[5,3]},"encoding":{"x":{"datum":0.131,"type":"quantitative","scale":{"domain":[0,1]},"axis":null}}},
 {"width":195,"height":53,"data":{"values":[]},"mark":"point"},
 {"width":95,"height":53,"data":{"values":[{}]},"mark":{"type":"rule","color":"#333","strokeWidth":1.5},"encoding":{"x":{"datum":0.126,"type":"quantitative","scale":{"domain":[0,1]},"axis":null}}},
 {"width":193,"height":53,"data":{"values":[]},"mark":"point"},
 {"width":100,"height":53,"data":{"values":[{}]},"mark":{"type":"rule","color":"#222","strokeWidth":1.5,"strokeDash":[5,3]},"encoding":{"x":{"datum":0.18,"type":"quantitative","scale":{"domain":[0,1]},"axis":null}}},
 {"width":194,"height":53,"data":{"values":[]},"mark":"point"},

 {"width":44,"height":123,"data":{"values":[{"label":"Time to peak"}]},"mark":{"type":"text","angle":270,"fontSize":23,"color":"#111","dx":12},"encoding":{"text":{"field":"label","type":"nominal"}}},
 {"width":84,"height":123,"data":{"values":[]},"mark":"point"},
 {"width":193,"height":123,
  "encoding":{"y":{"field":"v","type":"quantitative","title":"TTP₋₈₀% [s]","scale":{"domain":[0,0.25],"nice":false},"axis":{"values":[0,0.05,0.1,0.15,0.2,0.25],"format":".2f"}}},
  "layer":[
   {"data":{"name":"med"},"transform":[{"filter":"datum.p=='T1'&&datum.g=='BL'"}],"mark":{"type":"rule","color":"#999","strokeDash":[2,2],"strokeWidth":1.2},"encoding":{}},
   {"data":{"name":"med"},"transform":[{"filter":"datum.p=='T1'"}],"mark":{"type":"tick","color":"#f07070","thickness":2,"size":64},"encoding":{"x":{"field":"g","type":"nominal","title":null,"scale":{"type":"band","domain":["BL","100 nM"],"paddingInner":0,"paddingOuter":0},"axis":{"bandPosition":0.5}}}},
   {"data":{"name":"dots"},"transform":[{"filter":"datum.p=='T1'"}],"mark":{"type":"circle","size":28,"color":"#000","opacity":1},"encoding":{"x":{"field":"g","type":"nominal","title":null,"scale":{"type":"band","domain":["BL","100 nM"],"paddingInner":0,"paddingOuter":0},"axis":{"bandPosition":0.5}},"xOffset":{"field":"j","type":"quantitative","scale":{"domain":[-48.25,48.25],"range":[0,96.5]}}}},
   {"data":{"name":"stars"},"transform":[{"filter":"datum.p=='T1'"}],"mark":{"type":"text","text":"*","fontSize":17,"color":"#555","baseline":"alphabetic","dy":9},"encoding":{"x":{"field":"g","type":"nominal","title":null,"scale":{"type":"band","domain":["BL","100 nM"],"paddingInner":0,"paddingOuter":0},"axis":{"bandPosition":0.5}}}}
  ]},
 {"width":99,"height":123,"data":{"values":[{}]},"mark":{"type":"rule","color":"#222","strokeWidth":1.5,"strokeDash":[5,3]},"encoding":{"x":{"datum":0.131,"type":"quantitative","scale":{"domain":[0,1]},"axis":null}}},
 {"width":195,"height":123,
  "encoding":{"y":{"field":"v","type":"quantitative","title":"TTP₋₈₀% [s]","scale":{"domain":[0,0.25],"nice":false},"axis":{"values":[0,0.05,0.1,0.15,0.2,0.25],"format":".2f"}}},
  "layer":[
   {"data":{"name":"med"},"transform":[{"filter":"datum.p=='T2'&&datum.g=='BL'"}],"mark":{"type":"rule","color":"#999","strokeDash":[2,2],"strokeWidth":1.2},"encoding":{}},
   {"data":{"name":"med"},"transform":[{"filter":"datum.p=='T2'"}],"mark":{"type":"tick","color":"#f07070","thickness":2,"size":64},"encoding":{"x":{"field":"g","type":"nominal","title":null,"scale":{"type":"band","domain":["BL","30 nM"],"paddingInner":0,"paddingOuter":0},"axis":{"bandPosition":0.5,"labelFontWeight":"bold"}}}},
   {"data":{"name":"dots"},"transform":[{"filter":"datum.p=='T2'"}],"mark":{"type":"circle","size":28,"color":"#000","opacity":1},"encoding":{"x":{"field":"g","type":"nominal","title":null,"scale":{"type":"band","domain":["BL","30 nM"],"paddingInner":0,"paddingOuter":0},"axis":{"bandPosition":0.5,"labelFontWeight":"bold"}},"xOffset":{"field":"j","type":"quantitative","scale":{"domain":[-48.75,48.75],"range":[0,97.5]}}}}
  ]},
 {"width":95,"height":123,"data":{"values":[{}]},"mark":{"type":"rule","color":"#333","strokeWidth":1.5},"encoding":{"x":{"datum":0.126,"type":"quantitative","scale":{"domain":[0,1]},"axis":null}}},
 {"width":193,"height":123,
  "encoding":{"y":{"field":"v","type":"quantitative","title":"TTP₋₈₀% [s]","scale":{"domain":[0,0.25],"nice":false},"axis":{"values":[0,0.05,0.1,0.15,0.2,0.25],"format":".2f"}}},
  "layer":[
   {"data":{"name":"med"},"transform":[{"filter":"datum.p=='T3'&&datum.g=='BL'"}],"mark":{"type":"rule","color":"#999","strokeDash":[2,2],"strokeWidth":1.2},"encoding":{}},
   {"data":{"name":"med"},"transform":[{"filter":"datum.p=='T3'"}],"mark":{"type":"tick","color":"#f07070","thickness":2,"size":46},"encoding":{"x":{"field":"g","type":"nominal","title":null,"scale":{"type":"band","domain":["BL","10 nM","30 nM"],"paddingInner":0,"paddingOuter":0},"axis":{"bandPosition":0.5}}}},
   {"data":{"name":"dots"},"transform":[{"filter":"datum.p=='T3'"}],"mark":{"type":"circle","size":28,"color":"#000","opacity":1},"encoding":{"x":{"field":"g","type":"nominal","title":null,"scale":{"type":"band","domain":["BL","10 nM","30 nM"],"paddingInner":0,"paddingOuter":0},"axis":{"bandPosition":0.5}},"xOffset":{"field":"j","type":"quantitative","scale":{"domain":[-32.17,32.17],"range":[0,64.33]}}}}
  ]},
 {"width":100,"height":123,"data":{"values":[{}]},"mark":{"type":"rule","color":"#222","strokeWidth":1.5,"strokeDash":[5,3]},"encoding":{"x":{"datum":0.18,"type":"quantitative","scale":{"domain":[0,1]},"axis":null}}},
 {"width":194,"height":123,
  "encoding":{"y":{"field":"v","type":"quantitative","title":"TTP₋₈₀% [s]","scale":{"domain":[0,0.25],"nice":false},"axis":{"values":[0,0.05,0.1,0.15,0.2,0.25],"format":".2f"}}},
  "layer":[
   {"data":{"name":"med"},"transform":[{"filter":"datum.p=='T4'&&datum.g=='BL'"}],"mark":{"type":"rule","color":"#999","strokeDash":[2,2],"strokeWidth":1.2},"encoding":{}},
   {"data":{"name":"med"},"transform":[{"filter":"datum.p=='T4'"}],"mark":{"type":"tick","color":"#f07070","thickness":2,"size":36},"encoding":{"x":{"field":"g","type":"nominal","title":null,"scale":{"type":"band","domain":["BL","10 nM","30 nM"],"paddingInner":0,"paddingOuter":0},"axis":{"bandPosition":0.5,"domainWidth":3.5}}}},
   {"data":{"name":"dots"},"transform":[{"filter":"datum.p=='T4'"}],"mark":{"type":"circle","size":28,"color":"#000","opacity":1},"encoding":{"x":{"field":"g","type":"nominal","title":null,"scale":{"type":"band","domain":["BL","10 nM","30 nM"],"paddingInner":0,"paddingOuter":0},"axis":{"bandPosition":0.5,"domainWidth":3.5}},"xOffset":{"field":"j","type":"quantitative","scale":{"domain":[-32.33,32.33],"range":[0,64.67]}}}}
  ]},

 {"width":44,"height":50,"data":{"values":[]},"mark":"point"},
 {"width":84,"height":50,"data":{"values":[]},"mark":"point"},
 {"width":193,"height":50,"data":{"values":[]},"mark":"point"},
 {"width":99,"height":50,"data":{"values":[{}]},"mark":{"type":"rule","color":"#222","strokeWidth":1.5,"strokeDash":[5,3]},"encoding":{"x":{"datum":0.131,"type":"quantitative","scale":{"domain":[0,1]},"axis":null}}},
 {"width":195,"height":50,"data":{"values":[]},"mark":"point"},
 {"width":95,"height":50,"data":{"values":[{}]},"mark":{"type":"rule","color":"#333","strokeWidth":1.5},"encoding":{"x":{"datum":0.126,"type":"quantitative","scale":{"domain":[0,1]},"axis":null}}},
 {"width":193,"height":50,"data":{"values":[]},"mark":"point"},
 {"width":100,"height":50,"data":{"values":[{}]},"mark":{"type":"rule","color":"#222","strokeWidth":1.5,"strokeDash":[5,3]},"encoding":{"x":{"datum":0.18,"type":"quantitative","scale":{"domain":[0,1]},"axis":null}}},
 {"width":194,"height":50,"data":{"values":[]},"mark":"point"},

 {"width":44,"height":123,"data":{"values":[{"label":"Relaxation time"}]},"mark":{"type":"text","angle":270,"fontSize":23,"color":"#111"},"encoding":{"text":{"field":"label","type":"nominal"}}},
 {"width":84,"height":123,"data":{"values":[]},"mark":"point"},
 {"width":193,"height":123,
  "encoding":{"y":{"field":"v","type":"quantitative","title":"RT₈₀% [s]","scale":{"domain":[0,0.5],"nice":false},"axis":{"values":[0,0.1,0.2,0.3,0.4,0.5],"format":".1f"}}},
  "layer":[
   {"data":{"name":"med"},"transform":[{"filter":"datum.p=='R1'&&datum.g=='BL'"}],"mark":{"type":"rule","color":"#999","strokeDash":[2,2],"strokeWidth":1.2},"encoding":{}},
   {"data":{"name":"med"},"transform":[{"filter":"datum.p=='R1'"}],"mark":{"type":"tick","color":"#f07070","thickness":2,"size":64},"encoding":{"x":{"field":"g","type":"nominal","title":null,"scale":{"type":"band","domain":["BL","100 nM"],"paddingInner":0,"paddingOuter":0},"axis":{"bandPosition":0.5}}}},
   {"data":{"name":"dots"},"transform":[{"filter":"datum.p=='R1'"}],"mark":{"type":"circle","size":28,"color":"#000","opacity":1},"encoding":{"x":{"field":"g","type":"nominal","title":null,"scale":{"type":"band","domain":["BL","100 nM"],"paddingInner":0,"paddingOuter":0},"axis":{"bandPosition":0.5}},"xOffset":{"field":"j","type":"quantitative","scale":{"domain":[-48.25,48.25],"range":[0,96.5]}}}},
   {"data":{"name":"stars"},"transform":[{"filter":"datum.p=='R1'"}],"mark":{"type":"text","text":"*","fontSize":17,"color":"#555","baseline":"alphabetic","dy":9},"encoding":{"x":{"field":"g","type":"nominal","title":null,"scale":{"type":"band","domain":["BL","100 nM"],"paddingInner":0,"paddingOuter":0},"axis":{"bandPosition":0.5}}}}
  ]},
 {"width":99,"height":123,"data":{"values":[{}]},"mark":{"type":"rule","color":"#222","strokeWidth":1.5,"strokeDash":[5,3]},"encoding":{"x":{"datum":0.131,"type":"quantitative","scale":{"domain":[0,1]},"axis":null}}},
 {"width":195,"height":123,
  "encoding":{"y":{"field":"v","type":"quantitative","title":"RT₈₀% [s]","scale":{"domain":[0,0.5],"nice":false},"axis":{"values":[0,0.1,0.2,0.3,0.4,0.5],"format":".1f"}}},
  "layer":[
   {"data":{"name":"med"},"transform":[{"filter":"datum.p=='R2'&&datum.g=='BL'"}],"mark":{"type":"rule","color":"#999","strokeDash":[2,2],"strokeWidth":1.2},"encoding":{}},
   {"data":{"name":"med"},"transform":[{"filter":"datum.p=='R2'"}],"mark":{"type":"tick","color":"#f07070","thickness":2,"size":64},"encoding":{"x":{"field":"g","type":"nominal","title":null,"scale":{"type":"band","domain":["BL","30 nM"],"paddingInner":0,"paddingOuter":0},"axis":{"bandPosition":0.5,"labelFontWeight":"bold"}}}},
   {"data":{"name":"dots"},"transform":[{"filter":"datum.p=='R2'"}],"mark":{"type":"circle","size":28,"color":"#000","opacity":1},"encoding":{"x":{"field":"g","type":"nominal","title":null,"scale":{"type":"band","domain":["BL","30 nM"],"paddingInner":0,"paddingOuter":0},"axis":{"bandPosition":0.5,"labelFontWeight":"bold"}},"xOffset":{"field":"j","type":"quantitative","scale":{"domain":[-48.75,48.75],"range":[0,97.5]}}}}
  ]},
 {"width":95,"height":123,"data":{"values":[{}]},"mark":{"type":"rule","color":"#333","strokeWidth":1.5},"encoding":{"x":{"datum":0.126,"type":"quantitative","scale":{"domain":[0,1]},"axis":null}}},
 {"width":193,"height":123,
  "encoding":{"y":{"field":"v","type":"quantitative","title":"RT₈₀% [s]","scale":{"domain":[0,0.5],"nice":false},"axis":{"values":[0,0.1,0.2,0.3,0.4,0.5],"format":".1f"}}},
  "layer":[
   {"data":{"name":"med"},"transform":[{"filter":"datum.p=='R3'&&datum.g=='BL'"}],"mark":{"type":"rule","color":"#999","strokeDash":[2,2],"strokeWidth":1.2},"encoding":{}},
   {"data":{"name":"med"},"transform":[{"filter":"datum.p=='R3'"}],"mark":{"type":"tick","color":"#f07070","thickness":2,"size":46},"encoding":{"x":{"field":"g","type":"nominal","title":null,"scale":{"type":"band","domain":["BL","10 nM","30 nM"],"paddingInner":0,"paddingOuter":0},"axis":{"bandPosition":0.5}}}},
   {"data":{"name":"dots"},"transform":[{"filter":"datum.p=='R3'"}],"mark":{"type":"circle","size":28,"color":"#000","opacity":1},"encoding":{"x":{"field":"g","type":"nominal","title":null,"scale":{"type":"band","domain":["BL","10 nM","30 nM"],"paddingInner":0,"paddingOuter":0},"axis":{"bandPosition":0.5}},"xOffset":{"field":"j","type":"quantitative","scale":{"domain":[-32.17,32.17],"range":[0,64.33]}}}},
   {"data":{"name":"stars"},"transform":[{"filter":"datum.p=='R3'"}],"mark":{"type":"text","text":"*","fontSize":19,"color":"#333","baseline":"alphabetic","dy":10},"encoding":{"x":{"field":"g","type":"nominal","title":null,"scale":{"type":"band","domain":["BL","10 nM","30 nM"],"paddingInner":0,"paddingOuter":0},"axis":{"bandPosition":0.5}}}}
  ]},
 {"width":100,"height":123,"data":{"values":[{}]},"mark":{"type":"rule","color":"#222","strokeWidth":1.5,"strokeDash":[5,3]},"encoding":{"x":{"datum":0.18,"type":"quantitative","scale":{"domain":[0,1]},"axis":null}}},
 {"width":194,"height":123,
  "encoding":{"y":{"field":"v","type":"quantitative","title":"RT₈₀% [s]","scale":{"domain":[0,0.5],"nice":false},"axis":{"values":[0,0.1,0.2,0.3,0.4,0.5],"format":".1f"}}},
  "layer":[
   {"data":{"name":"med"},"transform":[{"filter":"datum.p=='R4'&&datum.g=='BL'"}],"mark":{"type":"rule","color":"#999","strokeDash":[2,2],"strokeWidth":1.2},"encoding":{}},
   {"data":{"name":"med"},"transform":[{"filter":"datum.p=='R4'"}],"mark":{"type":"tick","color":"#f07070","thickness":2,"size":36},"encoding":{"x":{"field":"g","type":"nominal","title":null,"scale":{"type":"band","domain":["BL","10 nM","30 nM"],"paddingInner":0,"paddingOuter":0},"axis":{"bandPosition":0.5}}}},
   {"data":{"name":"dots"},"transform":[{"filter":"datum.p=='R4'"}],"mark":{"type":"circle","size":28,"color":"#000","opacity":1},"encoding":{"x":{"field":"g","type":"nominal","title":null,"scale":{"type":"band","domain":["BL","10 nM","30 nM"],"paddingInner":0,"paddingOuter":0},"axis":{"bandPosition":0.5}},"xOffset":{"field":"j","type":"quantitative","scale":{"domain":[-32.33,32.33],"range":[0,64.67]}}}},
   {"data":{"name":"stars"},"transform":[{"filter":"datum.p=='R4'"}],"mark":{"type":"text","text":"*","fontSize":19,"color":"#333","baseline":"alphabetic","dy":10},"encoding":{"x":{"field":"g","type":"nominal","title":null,"scale":{"type":"band","domain":["BL","10 nM","30 nM"],"paddingInner":0,"paddingOuter":0},"axis":{"bandPosition":0.5}}}}
  ]},

 {"width":44,"height":60,"data":{"values":[]},"mark":"point"},
 {"width":84,"height":60,"data":{"values":[]},"mark":"point"},
 {"width":193,"height":60,"data":{"values":[]},"mark":"point"},
 {"width":99,"height":60,"data":{"values":[{}]},"mark":{"type":"rule","color":"#222","strokeWidth":1.5,"strokeDash":[5,3]},"encoding":{"x":{"datum":0.131,"type":"quantitative","scale":{"domain":[0,1]},"axis":null}}},
 {"width":195,"height":60,"data":{"values":[]},"mark":"point"},
 {"width":95,"height":60,"data":{"values":[{}]},"mark":{"type":"rule","color":"#333","strokeWidth":1.5},"encoding":{"x":{"datum":0.126,"type":"quantitative","scale":{"domain":[0,1]},"axis":null}}},
 {"width":193,"height":60,"data":{"values":[]},"mark":"point"},
 {"width":100,"height":60,"data":{"values":[{}]},"mark":{"type":"rule","color":"#222","strokeWidth":1.5,"strokeDash":[5,3]},"encoding":{"x":{"datum":0.18,"type":"quantitative","scale":{"domain":[0,1]},"axis":null}}},
 {"width":194,"height":60,"data":{"values":[]},"mark":"point"},

 {"width":44,"height":122,"data":{"values":[{"label":"Average peak"}]},"mark":{"type":"text","angle":270,"fontSize":23,"color":"#111","dx":-11},"encoding":{"text":{"field":"label","type":"nominal"}}},
 {"width":84,"height":122,"data":{"values":[]},"mark":"point"},
 {"width":193,"height":122,
  "encoding":{"x":{"field":"t","type":"quantitative","title":"Time [s]","scale":{"domain":[0,0.8],"nice":false},"axis":{"values":[0,0.2,0.4,0.6,0.8],"format":".1f","titleFontSize":15,"titlePadding":3}},
    "y":{"field":"f","type":"quantitative","title":"Force [mN]","scale":{"domain":[0,0.2],"nice":false},"axis":{"values":[0,0.05,0.1,0.15,0.2],"format":".2f"}}},
  "layer":[
   {"data":{"name":"a1d"},"mark":{"type":"line","strokeWidth":1,"point":{"filled":true,"size":20,"opacity":1}},"encoding":{"color":{"datum":"100 nM","type":"nominal","scale":{"domain":["Baseline","100 nM"],"range":["#000000","#5b5bf0"]},"legend":{"title":null,"orient":"top-right","offset":6,"symbolType":"M-1,0L1,0M0.22,0A0.22,0.22,0,1,1,-0.22,0A0.22,0.22,0,1,1,0.22,0M0.11,0A0.11,0.11,0,1,1,-0.11,0A0.11,0.11,0,1,1,0.11,0","symbolSize":225,"symbolStrokeWidth":1.5,"labelFontSize":16,"labelColor":"#222","rowPadding":1,"labelOffset":5}}}},
   {"data":{"name":"a1b"},"mark":{"type":"line","strokeWidth":1,"point":{"filled":true,"size":20,"opacity":1}},"encoding":{"color":{"datum":"Baseline","type":"nominal","scale":{"domain":["Baseline","100 nM"],"range":["#000000","#5b5bf0"]},"legend":{"title":null,"orient":"top-right","offset":6,"symbolType":"M-1,0L1,0M0.22,0A0.22,0.22,0,1,1,-0.22,0A0.22,0.22,0,1,1,0.22,0M0.11,0A0.11,0.11,0,1,1,-0.11,0A0.11,0.11,0,1,1,0.11,0","symbolSize":225,"symbolStrokeWidth":1.5,"labelFontSize":16,"labelColor":"#222","rowPadding":1,"labelOffset":5}}}}
  ]},
 {"width":99,"height":122,"data":{"values":[{}]},"mark":{"type":"rule","color":"#222","strokeWidth":1.5,"strokeDash":[5,3]},"encoding":{"x":{"datum":0.131,"type":"quantitative","scale":{"domain":[0,1]},"axis":null}}},
 {"width":195,"height":122,
  "encoding":{"x":{"field":"t","type":"quantitative","title":"Time [s]","scale":{"domain":[0,0.8],"nice":false},"axis":{"values":[0,0.2,0.4,0.6,0.8],"format":".1f","titleFontSize":15,"titlePadding":3,"labelFontWeight":"bold","titleFontWeight":"bold"}},
    "y":{"field":"f","type":"quantitative","title":"Force [mN]","scale":{"domain":[0,0.2],"nice":false},"axis":{"values":[0,0.05,0.1,0.15,0.2],"format":".2f"}}},
  "layer":[
   {"data":{"name":"a2d"},"mark":{"type":"line","strokeWidth":1,"point":{"filled":true,"size":20,"opacity":1}},"encoding":{"color":{"datum":"30 nM","type":"nominal","scale":{"domain":["Baseline","30 nM"],"range":["#000000","#5b5bf0"]},"legend":{"title":null,"orient":"top-right","offset":6,"symbolType":"M-1,0L1,0M0.22,0A0.22,0.22,0,1,1,-0.22,0A0.22,0.22,0,1,1,0.22,0M0.11,0A0.11,0.11,0,1,1,-0.11,0A0.11,0.11,0,1,1,0.11,0","symbolSize":225,"symbolStrokeWidth":1.5,"labelFontSize":16,"labelColor":"#222","rowPadding":1,"labelOffset":5}}}},
   {"data":{"name":"a2b"},"mark":{"type":"line","strokeWidth":1,"point":{"filled":true,"size":20,"opacity":1}},"encoding":{"color":{"datum":"Baseline","type":"nominal","scale":{"domain":["Baseline","30 nM"],"range":["#000000","#5b5bf0"]},"legend":{"title":null,"orient":"top-right","offset":6,"symbolType":"M-1,0L1,0M0.22,0A0.22,0.22,0,1,1,-0.22,0A0.22,0.22,0,1,1,0.22,0M0.11,0A0.11,0.11,0,1,1,-0.11,0A0.11,0.11,0,1,1,0.11,0","symbolSize":225,"symbolStrokeWidth":1.5,"labelFontSize":16,"labelColor":"#222","rowPadding":1,"labelOffset":5}}}}
  ]},
 {"width":95,"height":122,"data":{"values":[{}]},"mark":{"type":"rule","color":"#333","strokeWidth":1.5},"encoding":{"x":{"datum":0.126,"type":"quantitative","scale":{"domain":[0,1]},"axis":null}}},
 {"width":193,"height":122,
  "encoding":{"x":{"field":"t","type":"quantitative","title":"Time [s]","scale":{"domain":[0,0.8],"nice":false},"axis":{"values":[0,0.2,0.4,0.6,0.8],"format":".1f","titleFontSize":15,"titlePadding":3,"titleFontWeight":"bold"}},
    "y":{"field":"f","type":"quantitative","title":"Force [mN]","scale":{"domain":[0,0.2],"nice":false},"axis":{"values":[0,0.05,0.1,0.15,0.2],"format":".2f"}}},
  "layer":[
   {"data":{"name":"a3d"},"mark":{"type":"line","strokeWidth":1,"point":{"filled":true,"size":20,"opacity":1}},"encoding":{"color":{"datum":"10 nM","type":"nominal","scale":{"domain":["Baseline","10 nM"],"range":["#000000","#5b5bf0"]},"legend":{"title":null,"orient":"top-right","offset":6,"symbolType":"M-1,0L1,0M0.22,0A0.22,0.22,0,1,1,-0.22,0A0.22,0.22,0,1,1,0.22,0M0.11,0A0.11,0.11,0,1,1,-0.11,0A0.11,0.11,0,1,1,0.11,0","symbolSize":225,"symbolStrokeWidth":1.5,"labelFontSize":16,"labelColor":"#222","rowPadding":1,"labelOffset":5}}}},
   {"data":{"name":"a3b"},"mark":{"type":"line","strokeWidth":1,"point":{"filled":true,"size":20,"opacity":1}},"encoding":{"color":{"datum":"Baseline","type":"nominal","scale":{"domain":["Baseline","10 nM"],"range":["#000000","#5b5bf0"]},"legend":{"title":null,"orient":"top-right","offset":6,"symbolType":"M-1,0L1,0M0.22,0A0.22,0.22,0,1,1,-0.22,0A0.22,0.22,0,1,1,0.22,0M0.11,0A0.11,0.11,0,1,1,-0.11,0A0.11,0.11,0,1,1,0.11,0","symbolSize":225,"symbolStrokeWidth":1.5,"labelFontSize":16,"labelColor":"#222","rowPadding":1,"labelOffset":5}}}}
  ]},
 {"width":100,"height":122,"data":{"values":[{}]},"mark":{"type":"rule","color":"#222","strokeWidth":1.5,"strokeDash":[5,3]},"encoding":{"x":{"datum":0.18,"type":"quantitative","scale":{"domain":[0,1]},"axis":null}}},
 {"width":194,"height":122,
  "encoding":{"x":{"field":"t","type":"quantitative","title":"Time [s]","scale":{"domain":[0,0.8],"nice":false},"axis":{"values":[0,0.2,0.4,0.6,0.8],"format":".1f","titleFontSize":15,"titlePadding":3}},
    "y":{"field":"f","type":"quantitative","title":"Force [mN]","scale":{"domain":[0,0.15],"nice":false},"axis":{"values":[0,0.05,0.1,0.15],"format":".2f"}}},
  "layer":[
   {"data":{"name":"a4d"},"mark":{"type":"line","strokeWidth":1,"point":{"filled":true,"size":20,"opacity":1}},"encoding":{"color":{"datum":"10 nM","type":"nominal","scale":{"domain":["Baseline","10 nM"],"range":["#000000","#5b5bf0"]},"legend":{"title":null,"orient":"top-right","offset":6,"symbolType":"M-1,0L1,0M0.22,0A0.22,0.22,0,1,1,-0.22,0A0.22,0.22,0,1,1,0.22,0M0.11,0A0.11,0.11,0,1,1,-0.11,0A0.11,0.11,0,1,1,0.11,0","symbolSize":225,"symbolStrokeWidth":1.5,"labelFontSize":16,"labelColor":"#222","rowPadding":1,"labelOffset":5}}}},
   {"data":{"name":"a4b"},"mark":{"type":"line","strokeWidth":1,"point":{"filled":true,"size":20,"opacity":1}},"encoding":{"color":{"datum":"Baseline","type":"nominal","scale":{"domain":["Baseline","10 nM"],"range":["#000000","#5b5bf0"]},"legend":{"title":null,"orient":"top-right","offset":6,"symbolType":"M-1,0L1,0M0.22,0A0.22,0.22,0,1,1,-0.22,0A0.22,0.22,0,1,1,0.22,0M0.11,0A0.11,0.11,0,1,1,-0.11,0A0.11,0.11,0,1,1,0.11,0","symbolSize":225,"symbolStrokeWidth":1.5,"labelFontSize":16,"labelColor":"#222","rowPadding":1,"labelOffset":5}}}}
  ]},

 {"width":44,"height":61,"data":{"values":[]},"mark":"point"},
 {"width":84,"height":61,"data":{"values":[]},"mark":"point"},
 {"width":193,"height":61,"data":{"values":[]},"mark":"point"},
 {"width":99,"height":61,"data":{"values":[{}]},"mark":{"type":"rule","color":"#222","strokeWidth":1.5,"strokeDash":[5,3]},"encoding":{"x":{"datum":0.131,"type":"quantitative","scale":{"domain":[0,1]},"axis":null},"y":{"datum":0.426,"type":"quantitative","scale":{"domain":[0,1]},"axis":null},"y2":{"datum":1}}},
 {"width":195,"height":61,"data":{"values":[]},"mark":"point"},
 {"width":95,"height":61,"data":{"values":[{}]},"mark":{"type":"rule","color":"#333","strokeWidth":1.5},"encoding":{"x":{"datum":0.126,"type":"quantitative","scale":{"domain":[0,1]},"axis":null}}},
 {"width":193,"height":61,"data":{"values":[]},"mark":"point"},
 {"width":100,"height":61,"data":{"values":[{}]},"mark":{"type":"rule","color":"#222","strokeWidth":1.5,"strokeDash":[5,3]},"encoding":{"x":{"datum":0.18,"type":"quantitative","scale":{"domain":[0,1]},"axis":null},"y":{"datum":0.426,"type":"quantitative","scale":{"domain":[0,1]},"axis":null},"y2":{"datum":1}}},
 {"width":194,"height":61,"data":{"values":[]},"mark":"point"}
]
}
